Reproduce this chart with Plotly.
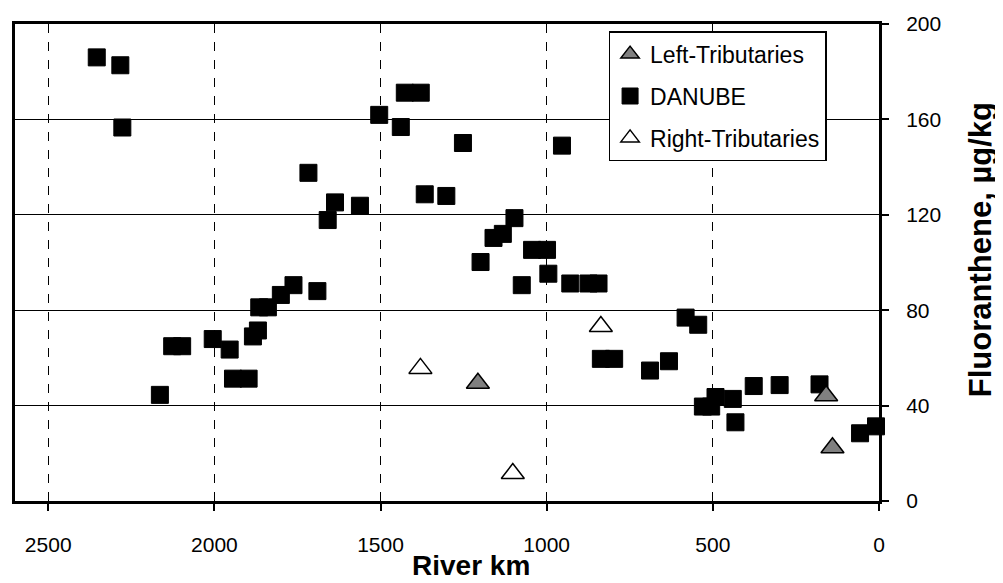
import plotly.graph_objects as go

# Danube main channel samples (river km, fluoranthene ug/kg)
danube_km = [2354, 2283, 2277, 2164, 2127, 2097, 2005, 1954, 1944, 1897,
             1884, 1869, 1865, 1839, 1800, 1762, 1717, 1690, 1659, 1637,
             1562, 1504, 1439, 1427, 1379, 1367, 1302, 1252, 1199, 1160,
             1132, 1097, 1075, 1044, 999, 995, 954, 929, 874, 844,
             837, 797, 689, 632, 582, 544, 530, 505, 492, 440,
             432, 377, 299, 179, 57, 9]
danube_val = [186, 182.7, 156.6, 44.5, 64.9, 64.9, 67.9, 63.5, 51.3, 51.3,
              69, 71.5, 81.2, 81.2, 86.4, 90.5, 137.6, 88, 117.8, 125.2,
              123.8, 161.9, 156.8, 171.2, 171.2, 128.6, 127.9, 150.1, 100.2, 110.3,
              112, 118.6, 90.5, 105.3, 105.3, 95.3, 149, 91.2, 91.2, 91.2,
              59.6, 59.6, 54.7, 58.6, 76.9, 73.9, 39.6, 39.6, 43.6, 42.8,
              33, 48.2, 48.6, 48.9, 28.4, 31.3]

# Tributaries
left_km = [1207, 159, 140]
left_val = [49.4, 44.1, 22.3]
right_km = [1380, 1102, 837]
right_val = [55.6, 11.5, 73.2]

x_ticks = [0, 500, 1000, 1500, 2000, 2500]
y_ticks = [0, 40, 80, 120, 160, 200]

FONT = 'Liberation Sans, Arial, sans-serif'

fig = go.Figure()

fig.add_trace(go.Scatter(
    x=danube_km, y=danube_val, mode='markers', name='DANUBE',
    legendrank=2, legendgroup='d', cliponaxis=False,
    marker=dict(symbol='square', size=17, color='black',
                line=dict(color='black', width=1))))

fig.add_trace(go.Scatter(
    x=left_km, y=left_val, mode='markers', name='Left-Tributaries',
    legendrank=1, legendgroup='l', cliponaxis=False,
    marker=dict(symbol='triangle-up', size=20, color='#808080',
                line=dict(color='black', width=1.5))))

fig.add_trace(go.Scatter(
    x=right_km, y=right_val, mode='markers', name='Right-Tributaries',
    legendrank=3, legendgroup='r', cliponaxis=False,
    marker=dict(symbol='triangle-up', size=20, color='white',
                line=dict(color='black', width=1.5))))

fig.update_xaxes(
    range=[2600, 0], tickvals=x_ticks, ticks='outside', ticklen=7,
    tickcolor='black', tickwidth=1.5, ticklabelstandoff=16,
    showline=True, linewidth=3, linecolor='black', mirror=True,
    showgrid=True, gridcolor='black', gridwidth=1, griddash='dash',
    zeroline=False,
    tickfont=dict(family=FONT, size=21, color='black'))

fig.update_yaxes(
    range=[0, 200], tickvals=y_ticks, side='right', ticks='outside', ticklen=7,
    tickcolor='black', tickwidth=1.5, ticklabelstandoff=13,
    showline=True, linewidth=3, linecolor='black', mirror=True,
    showgrid=True, gridcolor='black', gridwidth=1.3,
    zeroline=False,
    tickfont=dict(family=FONT, size=21, color='black'))

# axis titles as annotations so they sit where the original has them
fig.add_annotation(text='<b>River km</b>', xref='paper', yref='paper',
                   x=0.528, y=-0.135, xanchor='center', yanchor='middle',
                   showarrow=False, font=dict(family=FONT, size=28, color='black'))
fig.add_annotation(text='<b>Fluoranthene, µg/kg</b>', xref='paper', yref='paper',
                   x=1.117, y=0.526, xanchor='center', yanchor='middle',
                   textangle=-90, showarrow=False,
                   font=dict(family=FONT, size=31, color='black'))

fig.update_layout(
    width=995, height=575,
    margin=dict(l=4, r=124, t=12, b=82),
    plot_bgcolor='white', paper_bgcolor='white',
    legend=dict(
        x=0.687, y=0.985, xanchor='left', yanchor='top',
        bgcolor='white', bordercolor='black', borderwidth=1.5,
        traceorder='grouped', tracegroupgap=9,
        font=dict(family=FONT, size=23, color='black')),
    showlegend=True)

fig.write_html("out.html")
